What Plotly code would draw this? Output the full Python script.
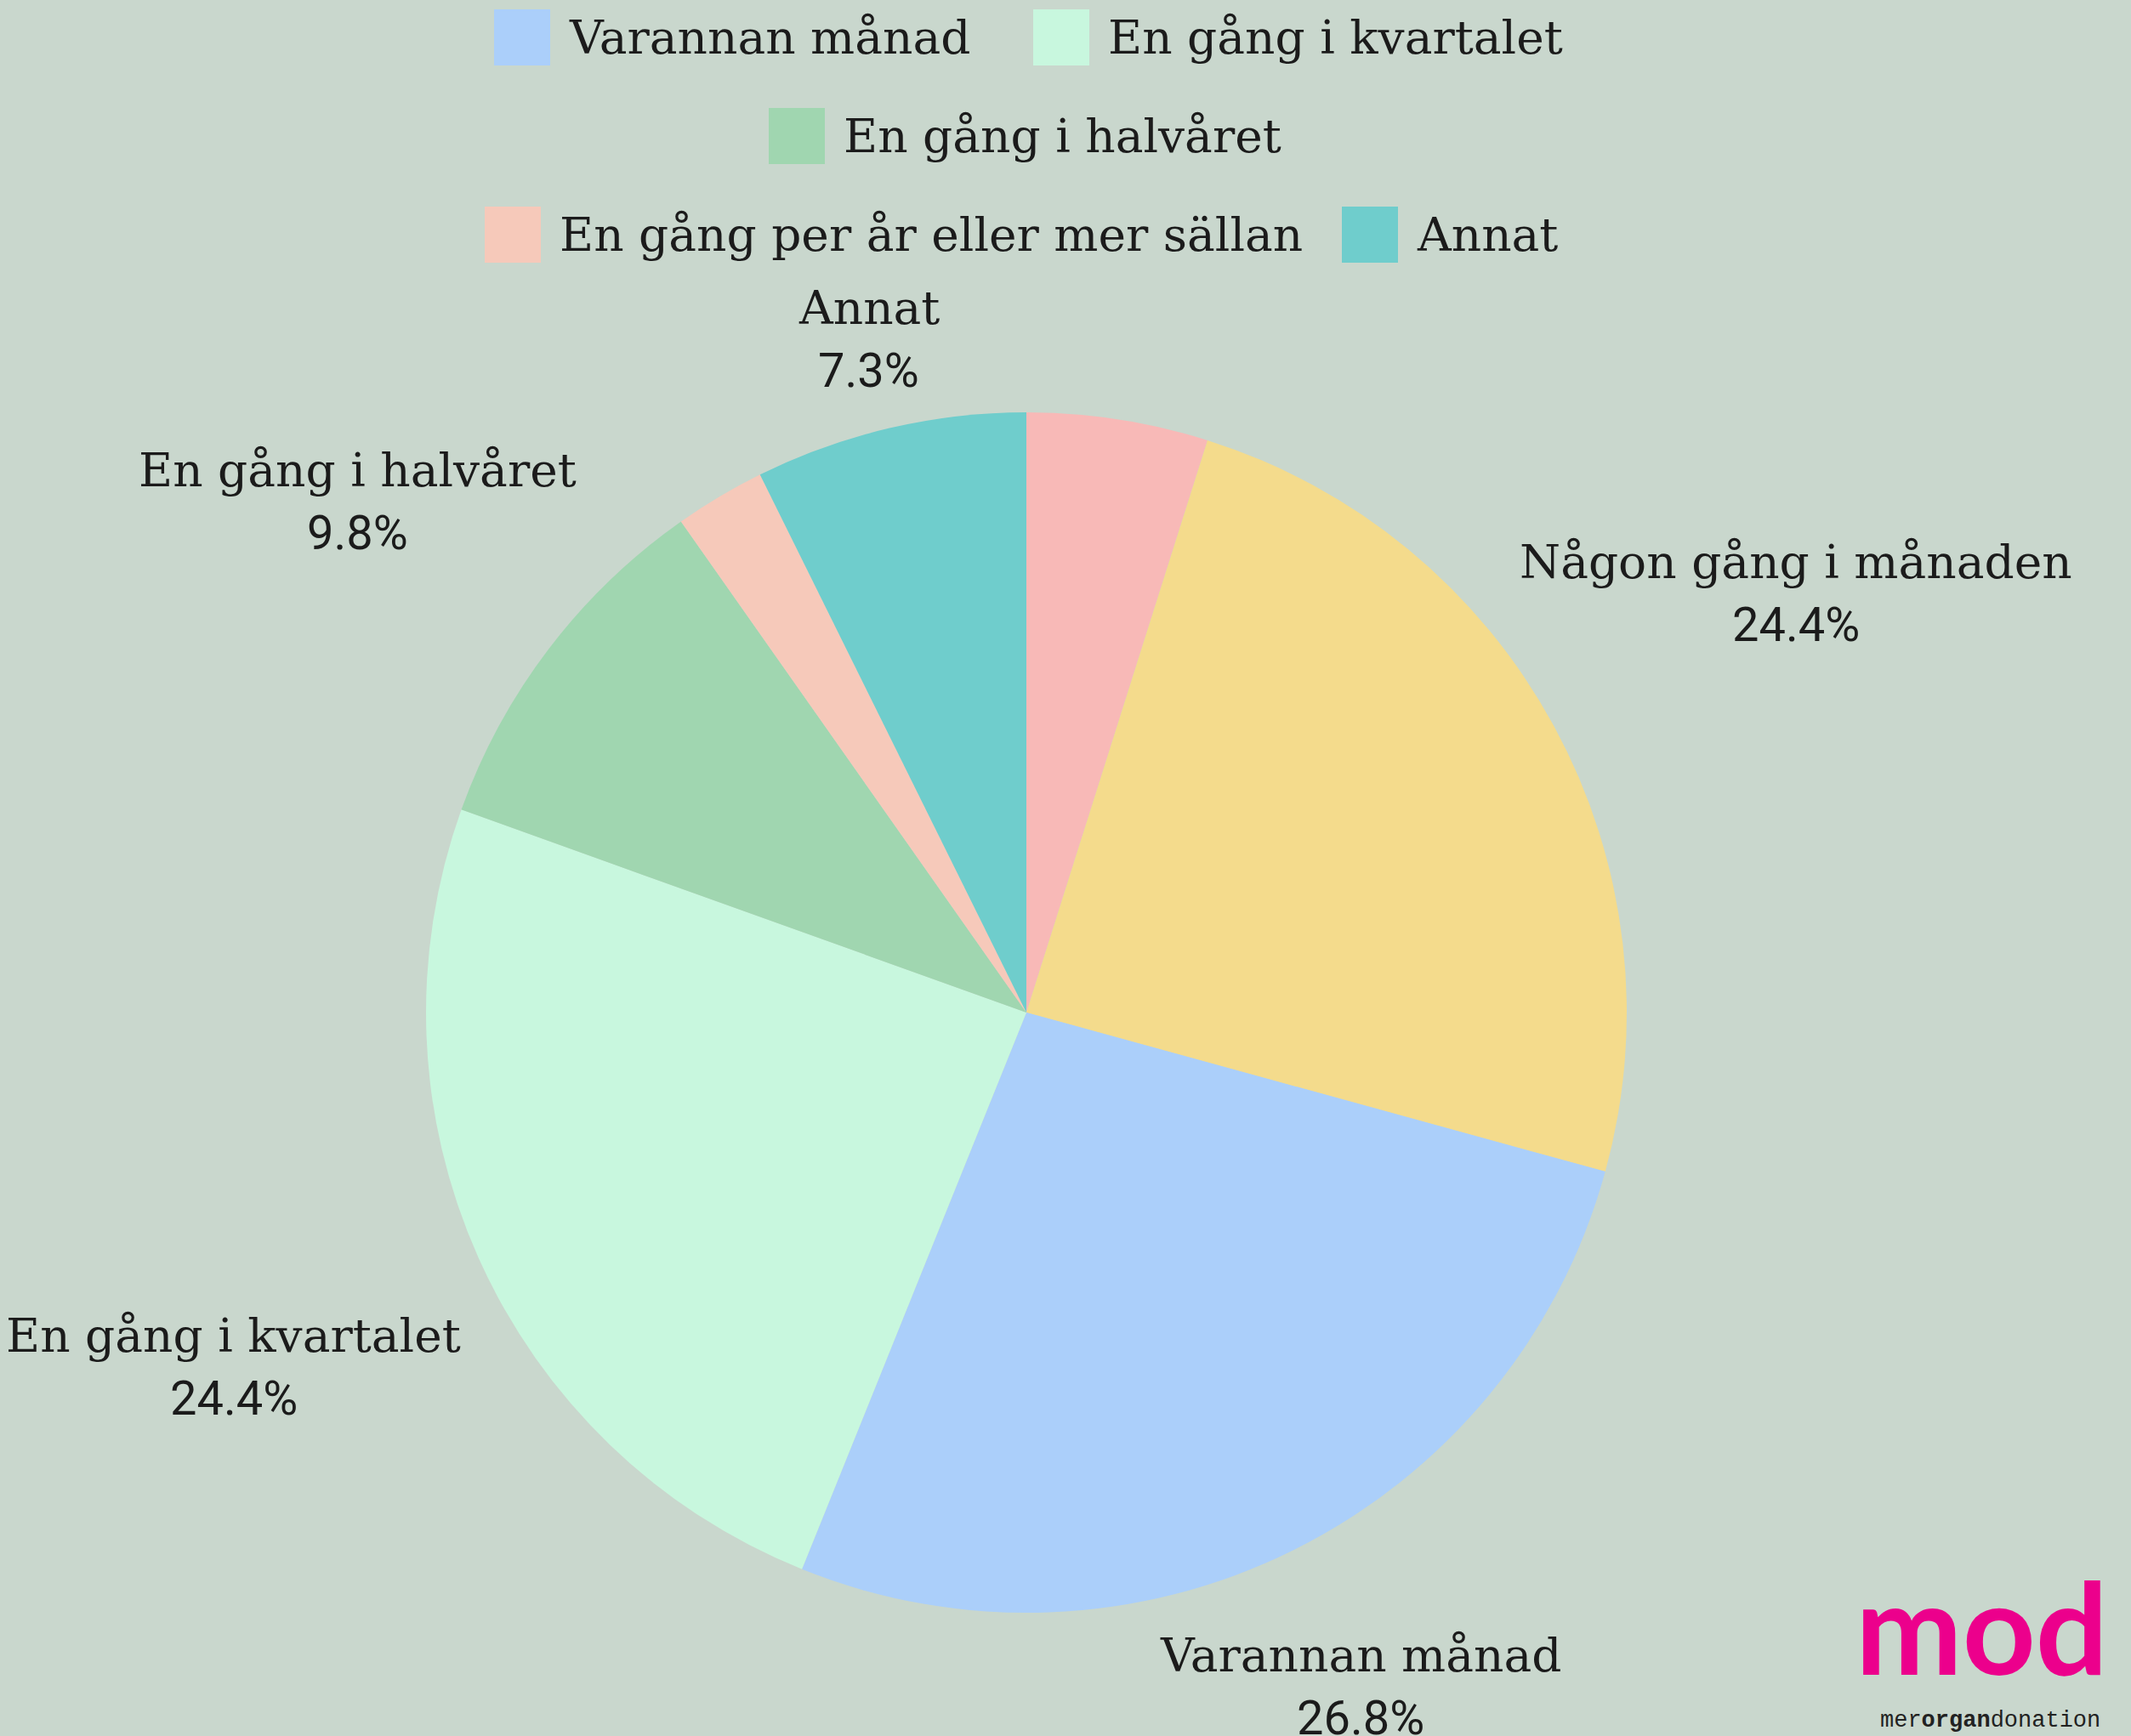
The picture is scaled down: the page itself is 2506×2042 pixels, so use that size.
import math
import plotly.graph_objects as go

# ---- data ----
categories = ["Någon gång per vecka", "Någon gång i månaden", "Varannan månad",
              "En gång i kvartalet", "En gång i halvåret",
              "En gång per år eller mer sällan", "Annat"]
counts = [2, 10, 11, 10, 4, 1, 3]
colors = ["#f8b9b7", "#f4db8c", "#abcffa", "#c8f7de", "#a0d6b0", "#f6c9ba", "#6fcdcc"]
show_label = [False, True, True, True, True, False, True]
legend_rows = [["Varannan månad", "En gång i kvartalet"],
               ["En gång i halvåret"],
               ["En gång per år eller mer sällan", "Annat"]]

W, H = 2506, 2042
BG = "#c9d7cd"
TXT = "#1b1b1b"
LABEL_FONT = "DejaVu Serif"
NUM_FONT = "Roboto"
FS = 55
FS_NUM = 56

cx, cy, R = 1207, 1191, 706


def px(x):
    return x / W


def py(y):
    return 1 - y / H


fig = go.Figure()
fig.add_trace(go.Pie(
    labels=categories, values=counts, sort=False, direction="clockwise",
    rotation=0, marker=dict(colors=colors, line=dict(width=0)),
    textinfo="none", hoverinfo="label+percent", showlegend=False,
    domain=dict(x=[px(cx - R), px(cx + R)], y=[py(cy + R), py(cy - R)]),
))

annotations = []
shapes = []
total = sum(counts)
cum = 0
for lab, v, show in zip(categories, counts, show_label):
    mid = (cum + v / 2) / total * 2 * math.pi
    cum += v
    if not show:
        continue
    s, c = math.sin(mid), math.cos(mid)
    w = 31 * len(lab)
    D = R + 16 + abs(s) * w / 2 + abs(c) * 75
    lx, ly = cx + D * s, cy - D * c
    pct = f"{100 * v / total:.1f}%"
    annotations.append(dict(x=px(lx), y=py(ly - 38), xref="paper", yref="paper",
                            text=lab, showarrow=False, xanchor="center", yanchor="middle",
                            font=dict(family=LABEL_FONT, size=FS, color=TXT)))
    annotations.append(dict(x=px(lx), y=py(ly + 36), xref="paper", yref="paper",
                            text=pct, showarrow=False, xanchor="center", yanchor="middle",
                            font=dict(family=NUM_FONT, size=FS_NUM, color=TXT)))

# ---- custom legend ----
row_y = [44, 160, 276]
row_sq_x = [[581, 1215], [904], [570, 1578]]
SQ = 66
col_of = dict(zip(categories, colors))
for names, ry, xs in zip(legend_rows, row_y, row_sq_x):
    for name, sx in zip(names, xs):
        shapes.append(dict(type="rect", xref="paper", yref="paper",
                           x0=px(sx), x1=px(sx + SQ), y0=py(ry + SQ / 2), y1=py(ry - SQ / 2),
                           fillcolor=col_of[name], line=dict(width=0)))
        annotations.append(dict(x=px(sx + SQ + 20), y=py(ry), xref="paper", yref="paper",
                                text=name, showarrow=False, xanchor="left", yanchor="middle",
                                font=dict(family=LABEL_FONT, size=FS, color=TXT)))

# ---- logo ----
annotations.append(dict(x=px(2330), y=py(2004), xref="paper", yref="paper",
                        text="<b>mod</b>", showarrow=False, xanchor="center", yanchor="bottom",
                        font=dict(family="Lato", size=150, color="#ec008c")))
annotations.append(dict(x=px(2340), y=py(2024), xref="paper", yref="paper",
                        text="mer<b>organ</b>donation", showarrow=False, xanchor="center",
                        yanchor="middle",
                        font=dict(family="Liberation Mono", size=27, color="#222222")))

fig.update_layout(
    width=W, height=H, autosize=False,
    margin=dict(l=0, r=0, t=0, b=0),
    paper_bgcolor=BG, plot_bgcolor=BG,
    annotations=annotations, shapes=shapes,
)
fig.write_html("out.html", config={"displayModeBar": False},
               post_script="document.body.style.margin='0';"
                           "document.body.style.background='" + BG + "';")
